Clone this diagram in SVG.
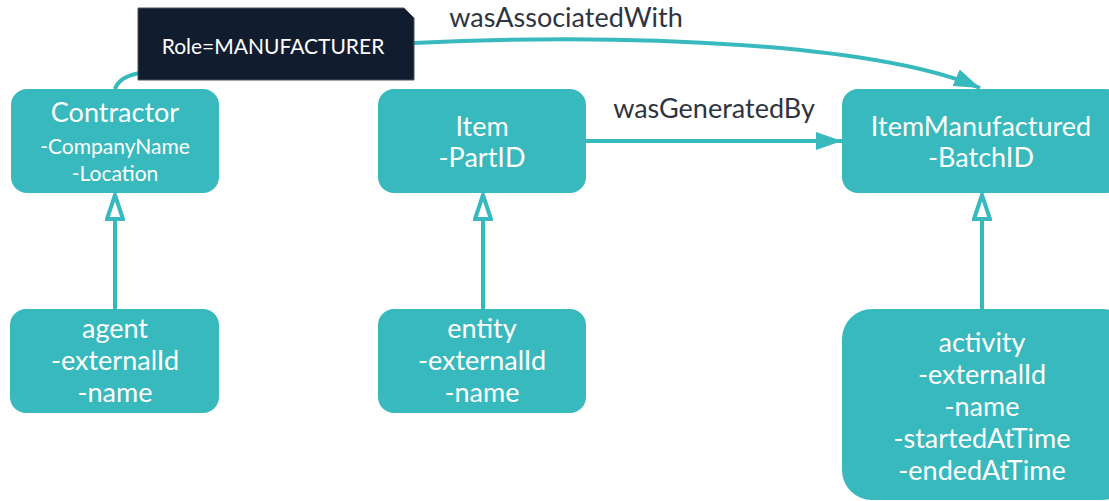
<svg xmlns="http://www.w3.org/2000/svg" width="1109" height="501" viewBox="0 0 1109 501">
<defs>
<style>
.node rect{fill:#38b9bd}
.t{font-family:Lato,"Open Sans",sans-serif;fill:#ffffff;text-anchor:middle}
.lbl{font-family:Lato,"Open Sans",sans-serif;fill:#2e3440;font-size:27px}
.c{fill:none;stroke:#38b9bd;stroke-width:4}
</style>
<marker id="fa" viewBox="0 0 26 18" refX="26" refY="9" markerWidth="26" markerHeight="18" markerUnits="userSpaceOnUse" orient="auto">
<path d="M0,0 L26,9 L0,18 Z" fill="#38b9bd"/>
</marker>
<marker id="ha" viewBox="0 0 28 20" refX="26" refY="10" markerWidth="28" markerHeight="20" markerUnits="userSpaceOnUse" orient="auto">
<path d="M2,2 L26,10 L2,18 Z" fill="#ffffff" stroke="#38b9bd" stroke-width="4" stroke-linejoin="miter"/>
</marker>
</defs>
<rect width="1109" height="501" fill="#ffffff"/>
<g id="connectors">
<path class="c" d="M115,89 C118,80 128,75 140,73"/>
<path class="c" d="M414,43 C640,32 880,45 980,88" marker-end="url(#fa)"/>
<path class="c" d="M586,141 L842,141" marker-end="url(#fa)"/>
<path class="c" d="M115,309 L115,195" marker-end="url(#ha)"/>
<path class="c" d="M483,309 L483,195" marker-end="url(#ha)"/>
<path class="c" d="M982,309 L982,195" marker-end="url(#ha)"/>
<text class="lbl" x="566" y="27" text-anchor="middle">wasAssociatedWith</text>
<text class="lbl" x="714" y="118" text-anchor="middle">wasGeneratedBy</text>
</g>
<g id="role">
<path d="M138,8 L404,8 L414,18 L414,80 L138,80 Z" fill="#121c2f" stroke="#4a5160" stroke-width="1"/>
<text class="t" x="273" y="54" font-size="21">Role=MANUFACTURER</text>
</g>
<g id="contractor" class="node">
<rect x="11" y="89" width="208" height="104" rx="16"/>
<text class="t" x="115" y="122" font-size="27">Contractor</text>
<text class="t" x="115" y="154" font-size="21">-CompanyName</text>
<text class="t" x="115" y="181" font-size="21">-Location</text>
</g>
<g id="item" class="node">
<rect x="378" y="89" width="208" height="104" rx="16"/>
<text class="t" x="482" y="136" font-size="27">Item</text>
<text class="t" x="482" y="167" font-size="27">-PartID</text>
</g>
<g id="itemmanufactured" class="node">
<rect x="842" y="89" width="280" height="104" rx="16"/>
<text class="t" x="981" y="136" font-size="27">ItemManufactured</text>
<text class="t" x="981" y="167" font-size="27">-BatchID</text>
</g>
<g id="agent" class="node">
<rect x="10" y="309" width="209" height="104" rx="16"/>
<text class="t" x="115" y="338" font-size="27">agent</text>
<text class="t" x="115" y="370" font-size="27">-externalId</text>
<text class="t" x="115" y="402" font-size="27">-name</text>
</g>
<g id="entity" class="node">
<rect x="378" y="309" width="208" height="104" rx="16"/>
<text class="t" x="482" y="338" font-size="27">entity</text>
<text class="t" x="482" y="370" font-size="27">-externalId</text>
<text class="t" x="482" y="402" font-size="27">-name</text>
</g>
<g id="activity" class="node">
<rect x="842" y="309" width="290" height="191" rx="30"/>
<text class="t" x="982" y="352" font-size="27">activity</text>
<text class="t" x="982" y="384" font-size="27">-externalId</text>
<text class="t" x="982" y="416" font-size="27">-name</text>
<text class="t" x="982" y="448" font-size="27">-startedAtTime</text>
<text class="t" x="982" y="480" font-size="27">-endedAtTime</text>
</g>
</svg>
